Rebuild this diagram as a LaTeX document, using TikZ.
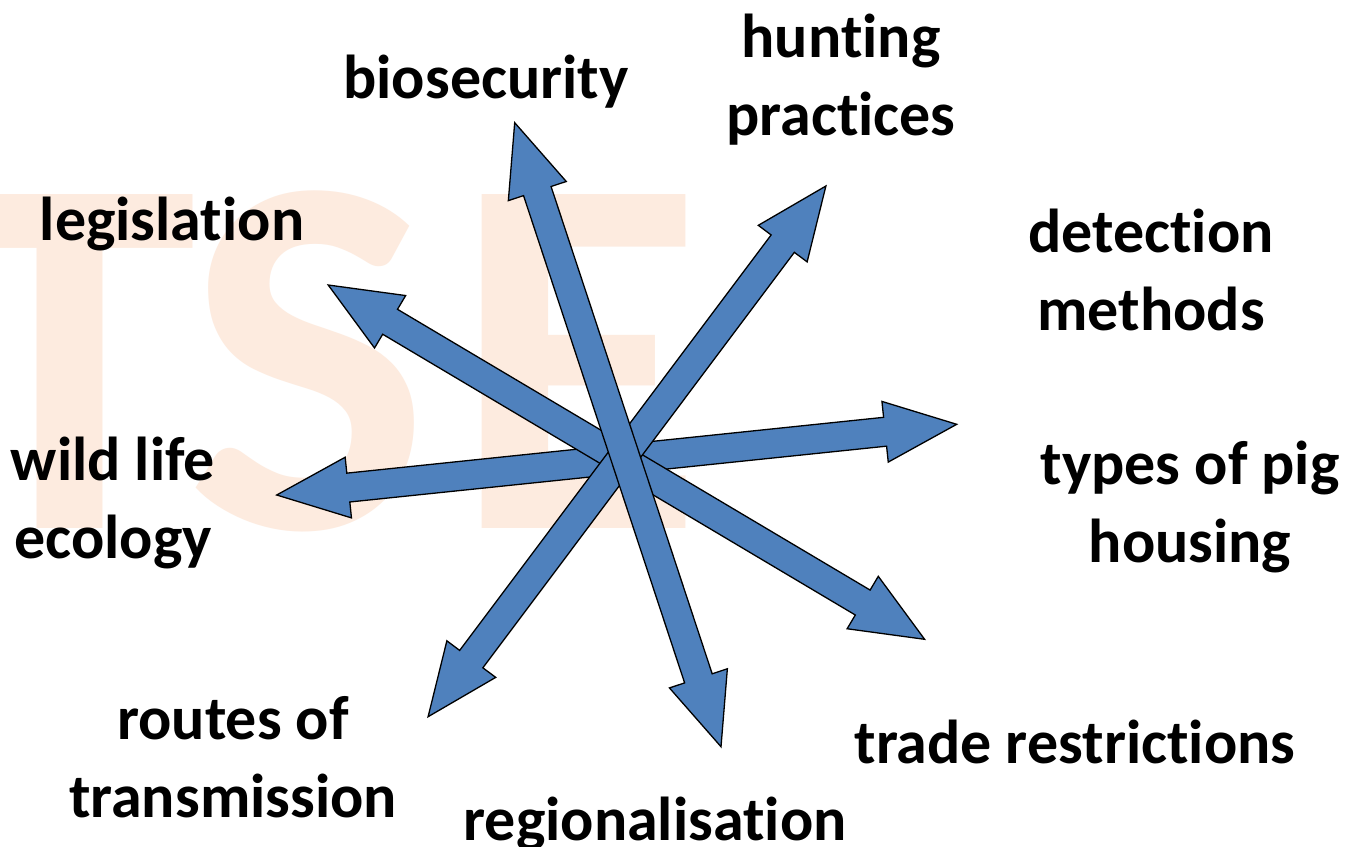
\documentclass[tikz,border=0pt]{standalone}
\usepackage{fontspec}
\setmainfont{Carlito}[Ligatures={NoCommon}]
\usetikzlibrary{calc}
\definecolor{arrowblue}{HTML}{4F81BD}
\definecolor{watermark}{HTML}{FDEBDF}
\tikzset{
  lbl/.style={font=\fontsize{62}{77.5}\selectfont\bfseries, align=center, inner sep=0pt, anchor=base, text=black},
  wm/.style={font=\fontsize{515}{515}\selectfont\bfseries, inner sep=0pt, anchor=base west, text=watermark},
  blockarrow/.style={fill=arrowblue, draw=black, line width=1.3pt, line join=miter}
}
\newcommand{\dblarrow}[2]{%
  \path coordinate (bp) at ($(#1)!72pt!(#2)$)
        coordinate (bq) at ($(#2)!72pt!(#1)$);
  \draw[blockarrow] (#1) -- ($(bp)!30.5pt!90:(#2)$) -- ($(bp)!14.5pt!90:(#2)$)
    -- ($(bq)!14.5pt!-90:(#1)$) -- ($(bq)!30.5pt!-90:(#1)$) -- (#2)
    -- ($(bq)!30.5pt!90:(#1)$) -- ($(bq)!14.5pt!90:(#1)$)
    -- ($(bp)!14.5pt!-90:(#2)$) -- ($(bp)!30.5pt!-90:(#2)$) -- cycle;}
\begin{document}
\begin{tikzpicture}[x=1pt,y=-1pt]
\fill[white] (0,0) rectangle (1349,846);
\useasboundingbox (0,0) rectangle (1349,846);
\clip (0,0) rectangle (1349,846);
% watermark
\node[wm] (wmT) at (-58,528) {T};
\node[wm] (wmS) at (186,528) {S};
\node[wm] (wmE) at (452,528) {E};
% arrow end points
\coordinate (a1a) at (514.7,122.7);
\coordinate (a1b) at (721,746.7);
\coordinate (a2a) at (825.9,186);
\coordinate (a2b) at (428.1,716.7);
\coordinate (a3a) at (328.2,285);
\coordinate (a3b) at (924.6,639.3);
\coordinate (a4a) at (276.7,495);
\coordinate (a4b) at (956.7,424.3);
\dblarrow{a4a}{a4b}
\dblarrow{a3a}{a3b}
\dblarrow{a2a}{a2b}
\dblarrow{a1a}{a1b}
% labels (base anchor = baseline of the last line)
\node[lbl] (bio) at (486,98) {biosecurity};
\node[lbl] (hunt) at (841,135) {hunting\\practices};
\node[lbl] (leg) at (172,240) {legislation};
\node[lbl] (det) at (1151,330) {detection\\methods};
\node[lbl] (pig) at (1190,562) {types of pig\\housing};
\node[lbl] (wild) at (113,558) {wild life\\ecology};
\node[lbl] (routes) at (233,817) {routes of\\transmission};
\node[lbl] (reg) at (655,840) {regionalisation};
\node[lbl] (trade) at (1075,763) {trade restrictions};
\end{tikzpicture}
\end{document}
